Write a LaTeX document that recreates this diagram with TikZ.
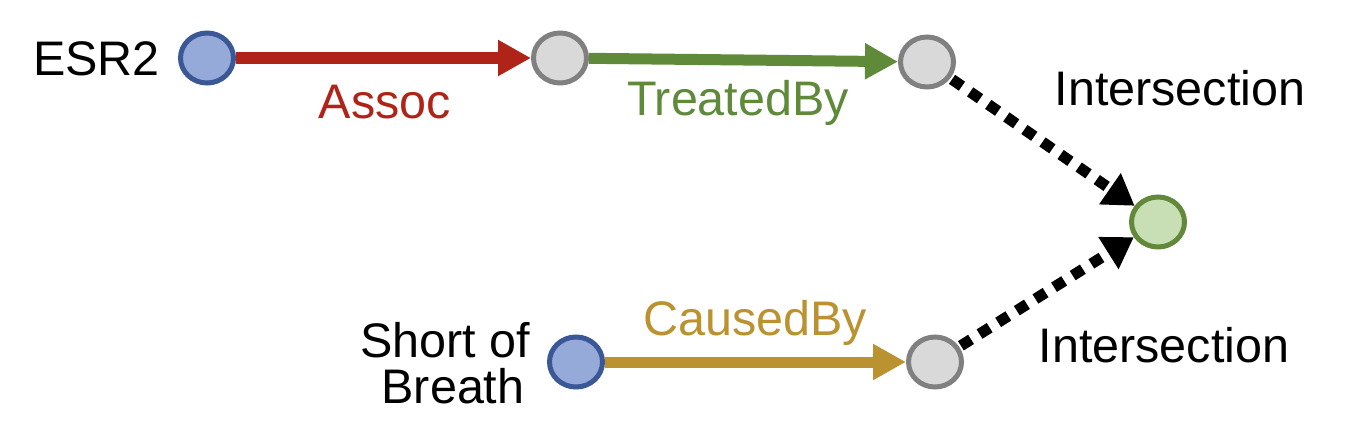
\documentclass[tikz,border=0pt]{standalone}
\usepackage{fontspec}
\setmainfont{Liberation Sans}
\usetikzlibrary{arrows.meta,shapes.geometric}
\definecolor{bluefill}{RGB}{149,170,217}
\definecolor{blueline}{RGB}{58,87,150}
\definecolor{grayfill}{RGB}{217,217,217}
\definecolor{grayline}{RGB}{128,128,128}
\definecolor{greenfill}{RGB}{200,222,180}
\definecolor{greenline}{RGB}{98,137,58}
\definecolor{redc}{RGB}{176,35,24}
\definecolor{greenc}{RGB}{94,138,58}
\definecolor{goldc}{RGB}{186,146,48}
\tikzset{
  vert/.style={ellipse, minimum width=53pt, minimum height=50pt, line width=5pt, inner sep=0pt},
  bluev/.style={vert, draw=blueline, fill=bluefill},
  grayv/.style={vert, draw=grayline, fill=grayfill},
  greenv/.style={vert, draw=greenline, fill=greenfill},
  lbl/.style={font=\fontsize{48.5}{56}\selectfont, inner sep=0pt, anchor=base},
  rel/.style={line width=11pt, -{Triangle[length=33pt,width=34pt]}},
  inter/.style={line width=11pt, dash pattern=on 12pt off 10pt, -{Triangle[length=30pt,width=36pt]}, shorten <=2pt}
}
\begin{document}
\begin{tikzpicture}[x=1pt,y=-1pt]
\useasboundingbox (0,0) rectangle (1372,444);
\node[bluev] (esr) at (207,58) {};
\node[grayv] (g1) at (560,58) {};
\node[grayv] (g2) at (927,62) {};
\node[greenv] (gi) at (1158,222) {};
\node[bluev] (sob) at (576,362) {};
\node[grayv] (g3) at (935,362) {};
\draw[rel, redc] (esr) -- (g1);
\draw[rel, greenc] (g1) -- (g2);
\draw[rel, goldc] (sob) -- (g3);
\draw[inter] (g2) -- (gi);
\draw[inter] (g3) -- (gi);
\node[lbl, anchor=base east] (tesr) at (160,75) {ESR2};
\node[lbl, text=redc] (tassoc) at (385,118) {Assoc};
\node[lbl, text=greenc] (ttreat) at (738,115) {TreatedBy};
\node[lbl, text=goldc] (tcaused) at (755,335) {CausedBy};
\node[lbl] (tint1) at (1180,105) {Intersection};
\node[lbl] (tint2) at (1164,362) {Intersection};
\node[lbl] (tsob1) at (445,357) {Short of};
\node[lbl] (tsob2) at (453,403) {Breath};
\end{tikzpicture}
\end{document}
